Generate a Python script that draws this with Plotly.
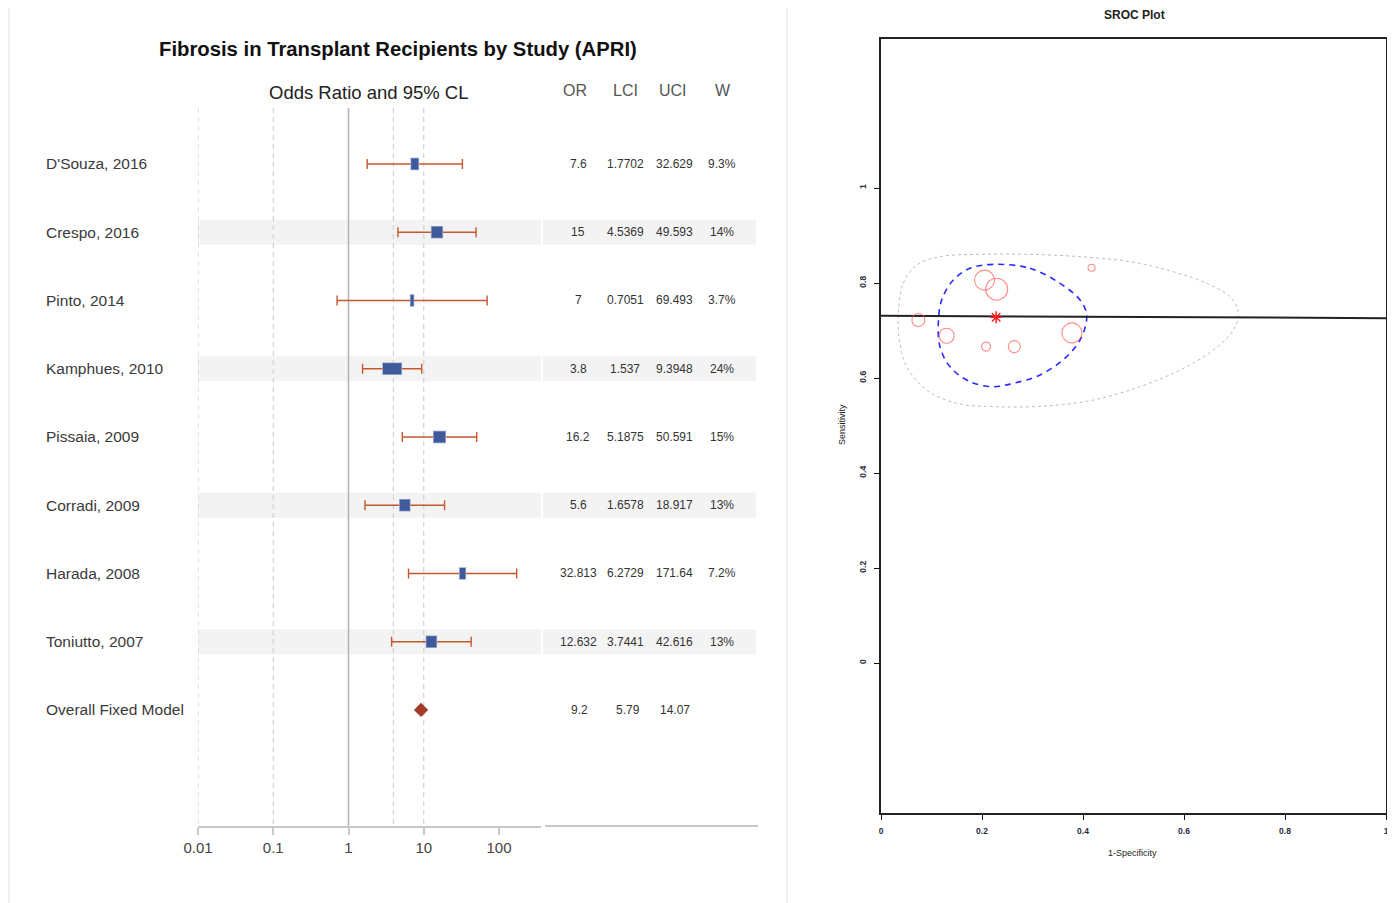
import numpy as np
import plotly.graph_objects as go

PAGE_W, PAGE_H = 1395, 903
BODY = 8  # browser default body margin
W, H = PAGE_W - BODY, PAGE_H - BODY

# ---------------- Forest plot data ----------------
studies = ["D'Souza, 2016", "Crespo, 2016", "Pinto, 2014", "Kamphues, 2010",
           "Pissaia, 2009", "Corradi, 2009", "Harada, 2008", "Toniutto, 2007"]
or_vals = [7.6, 15, 7, 3.8, 16.2, 5.6, 32.813, 12.632]
lci_vals = [1.7702, 4.5369, 0.7051, 1.537, 5.1875, 1.6578, 6.2729, 3.7441]
uci_vals = [32.629, 49.593, 69.493, 9.3948, 50.591, 18.917, 171.64, 42.616]
weights = [9.3, 14, 3.7, 24, 15, 13, 7.2, 13]
or_text = ["7.6", "15", "7", "3.8", "16.2", "5.6", "32.813", "12.632"]
lci_text = ["1.7702", "4.5369", "0.7051", "1.537", "5.1875", "1.6578", "6.2729", "3.7441"]
uci_text = ["32.629", "49.593", "69.493", "9.3948", "50.591", "18.917", "171.64", "42.616"]
w_text = ["9.3%", "14%", "3.7%", "24%", "15%", "13%", "7.2%", "13%"]

overall_label = "Overall Fixed Model"
overall_or = 9.2
overall_text = ["9.2", "5.79", "14.07"]

ref_dashed = [0.01, 0.1, 3.95, 10]
ref_solid = [1]
tick_vals = [0.01, 0.1, 1, 10, 100]
tick_text = ["0.01", "0.1", "1", "10", "100"]
col_headers = ["OR", "LCI", "UCI", "W"]

# ---------------- SROC data ----------------
fpr = [0.074, 0.130, 0.205, 0.229, 0.208, 0.264, 0.378, 0.417]
sens = [0.722, 0.689, 0.806, 0.787, 0.666, 0.666, 0.695, 0.832]
study_size = [13, 15, 20, 22, 9, 12, 20, 7]
summary_pt = [0.228, 0.728]
sroc_x = [0.0, 0.55, 1.0]
sroc_y = [0.731, 0.729, 0.726]
conf_x = [0.2224, 0.2950, 0.3545, 0.3941, 0.4073, 0.3974, 0.3677, 0.3149, 0.2620,
          0.2224, 0.1762, 0.1366, 0.1168, 0.1135, 0.1201, 0.1432, 0.1762, 0.2224]
conf_y = [0.8393, 0.8309, 0.7993, 0.7642, 0.7326, 0.6870, 0.6449, 0.6063, 0.5888,
          0.5817, 0.5922, 0.6238, 0.6659, 0.7151, 0.7642, 0.8063, 0.8309, 0.8393]
pred_x = [0.0343, 0.0442, 0.0706, 0.1168, 0.1960, 0.2950, 0.3941, 0.4931, 0.5789,
          0.6449, 0.6911, 0.7076, 0.6977, 0.6581, 0.5921, 0.5129, 0.4205, 0.3281,
          0.2290, 0.1498, 0.0904, 0.0508, 0.0363, 0.0343]
pred_y = [0.7361, 0.7993, 0.8379, 0.8554, 0.8604, 0.8604, 0.8554, 0.8449, 0.8238,
          0.7993, 0.7712, 0.7396, 0.7011, 0.6589, 0.6168, 0.5818, 0.5537, 0.5411,
          0.5396, 0.5467, 0.5747, 0.6239, 0.68, 0.7361]
sroc_ticks = [0, 0.2, 0.4, 0.6, 0.8, 1]
sroc_ticktext = ["<b>0</b>", "<b>0.2</b>", "<b>0.4</b>", "<b>0.6</b>", "<b>0.8</b>", "<b>1</b>"]


def xp(px):
    return (px - BODY) / W


def yp(py):
    return 1 - (py - BODY) / H


FONT = "Liberation Sans, Arial, sans-serif"
rows = list(range(1, len(studies) + 1))
overall_row = len(studies) + 1
Y_TOP, Y_BOT = 0.18, 10.70
PX_PER_DEC = 75.25

fig = go.Figure()

# reference lines
for v in ref_dashed:
    fig.add_trace(go.Scatter(x=[v, v], y=[Y_TOP, Y_BOT], mode="lines",
                             line=dict(color="#d2d2d2", width=1.2, dash="5px,4px"),
                             hoverinfo="skip", xaxis="x", yaxis="y"))
for v in ref_solid:
    fig.add_trace(go.Scatter(x=[v, v], y=[Y_TOP, Y_BOT], mode="lines",
                             line=dict(color="#b5b5b5", width=1.6),
                             hoverinfo="skip", xaxis="x", yaxis="y"))

# error bars
fig.add_trace(go.Scatter(
    x=or_vals, y=rows, mode="markers", marker=dict(size=1, opacity=0),
    error_x=dict(type="data", symmetric=False,
                 array=[u - o for u, o in zip(uci_vals, or_vals)],
                 arrayminus=[o - l for o, l in zip(or_vals, lci_vals)],
                 color="#c4582f", thickness=1.4, width=5),
    hoverinfo="skip", xaxis="x", yaxis="y"))


# weighted boxes (width proportional to weight)
def box_trace(extra_px, width, color):
    xs, ys = [], []
    for o, w, r in zip(or_vals, weights, rows):
        hw = (0.76 * w / 2 + extra_px) / PX_PER_DEC
        xs += [o * 10 ** (-hw), o * 10 ** hw, None]
        ys += [r, r, None]
    return go.Scatter(x=xs, y=ys, mode="lines", line=dict(color=color, width=width),
                      connectgaps=False, hoverinfo="skip", xaxis="x", yaxis="y")


fig.add_trace(box_trace(0.8, 12.5, "#9aa8d0"))
fig.add_trace(box_trace(0.0, 11, "#3f5a9b"))

# overall diamond
fig.add_trace(go.Scatter(x=[overall_or], y=[overall_row], mode="markers",
                         marker=dict(symbol="diamond", size=11, color="#a23b2b"),
                         hoverinfo="skip", xaxis="x", yaxis="y"))

# ---------------- SROC traces ----------------
fig.add_trace(go.Scatter(x=pred_x, y=pred_y, mode="lines",
                         line=dict(color="#bdbdbd", width=1, dash="dot", shape="spline"),
                         hoverinfo="skip", xaxis="x2", yaxis="y2"))
fig.add_trace(go.Scatter(x=conf_x, y=conf_y, mode="lines",
                         line=dict(color="#2a2aff", width=1.6, dash="6px,5px", shape="spline"),
                         hoverinfo="skip", xaxis="x2", yaxis="y2"))
fig.add_trace(go.Scatter(x=sroc_x, y=sroc_y, mode="lines",
                         line=dict(color="#222222", width=2),
                         hoverinfo="skip", xaxis="x2", yaxis="y2"))
fig.add_trace(go.Scatter(x=fpr, y=sens, mode="markers",
                         marker=dict(symbol="circle-open", size=study_size, color="#ff5a5a",
                                     line=dict(width=1.1)),
                         hoverinfo="skip", xaxis="x2", yaxis="y2"))
fig.add_trace(go.Scatter(x=[summary_pt[0]], y=[summary_pt[1]], mode="markers",
                         marker=dict(symbol="asterisk-open", size=10, color="#ff2020",
                                     line=dict(width=1.5, color="#ff2020")),
                         hoverinfo="skip", xaxis="x2", yaxis="y2"))

# ---------------- shapes ----------------
shapes = []
shapes.append(dict(type="rect", xref="paper", yref="paper", x0=xp(9), x1=xp(787),
                   y0=-0.05, y1=yp(7), line=dict(color="#dedede", width=1), layer="below"))
for r in rows:
    if r % 2 == 0:
        for a, b in [(198, 541), (543, 756)]:
            shapes.append(dict(type="rect", xref="paper", yref="y", x0=xp(a), x1=xp(b),
                               y0=r - 0.183, y1=r + 0.183, fillcolor="#f3f3f3",
                               line=dict(width=0), layer="below"))
shapes.append(dict(type="line", xref="paper", yref="paper", x0=xp(545), x1=xp(758),
                   y0=yp(826), y1=yp(826), line=dict(color="#c8c8c8", width=2)))

# ---------------- annotations ----------------
ann = []


def text(t, x, y, size, color="#333", yref="paper", xanchor="center", **kw):
    ann.append(dict(text=t, x=x, y=y, xref="paper", yref=yref, xanchor=xanchor,
                    yanchor="middle", showarrow=False,
                    font=dict(size=size, color=color, family=FONT), **kw))


text("<b>Fibrosis in Transplant Recipients by Study (APRI)</b>", xp(398), yp(49), 20.3, "#111")
text("Odds Ratio and 95% CL", xp(369), yp(92), 18.5, "#222")
for t, hx in zip(col_headers, [575, 625, 673, 723]):
    text(t, xp(hx), yp(90), 16, "#555")

col_x = [578, 625, 674, 722]
for r, name, a, b, c, d in zip(rows, studies, or_text, lci_text, uci_text, w_text):
    text(name, xp(44), r, 15.5, "#3a3a3a", yref="y", xanchor="left")
    for t, cx in zip([a, b, c, d], col_x):
        text(t, xp(cx), r, 12, "#333", yref="y")
text(overall_label, xp(44), overall_row, 15.5, "#3a3a3a", yref="y", xanchor="left")
for t, cx in zip(overall_text, [579, 628, 675]):
    text(t, xp(cx), overall_row, 12, "#333", yref="y")

text("<b>SROC Plot</b>", xp(1134), yp(15), 12, "#222")
text("1-Specificity", xp(1132), yp(853), 9, "#222")
text("Sensitivity", xp(842), yp(425), 9, "#222", textangle=-90)

fig.update_layout(
    width=W, height=H, margin=dict(l=0, r=0, t=0, b=0, autoexpand=False),
    paper_bgcolor="white", plot_bgcolor="white", showlegend=False,
    font=dict(family=FONT),
    xaxis=dict(domain=[xp(198), xp(541)], type="log", range=[-2, -2 + 343 / PX_PER_DEC],
               tickvals=tick_vals, ticktext=tick_text, ticks="outside", ticklen=7,
               tickcolor="#c8c8c8", tickwidth=1.5, showline=True, linecolor="#c8c8c8",
               linewidth=2, showgrid=False, zeroline=False, anchor="y", automargin=False,
               tickfont=dict(size=15, color="#444", family=FONT)),
    yaxis=dict(domain=[yp(826), yp(108)], range=[Y_BOT, Y_TOP], visible=False,
               showgrid=False, zeroline=False, anchor="x", automargin=False),
    xaxis2=dict(domain=[xp(881), xp(1386)], range=[0, 1], anchor="y2",
                tickvals=sroc_ticks, ticktext=sroc_ticktext, ticks="outside", ticklen=5,
                tickcolor="#111", showline=True, mirror=True, linecolor="#222", linewidth=1.5,
                showgrid=False, zeroline=False, automargin=False, ticklabelstandoff=4,
                tickfont=dict(size=8.5, color="#2a2a40", family=FONT)),
    yaxis2=dict(domain=[yp(813), yp(39)], range=[-0.3158, 1.3137], anchor="x2",
                tickvals=sroc_ticks, ticktext=sroc_ticktext, ticks="outside", ticklen=5,
                tickcolor="#111", showline=True, mirror=True, linecolor="#222", linewidth=1.5,
                showgrid=False, zeroline=False, tickangle=-90, automargin=False,
                ticklabelstandoff=5,
                tickfont=dict(size=8.5, color="#2a2a40", family=FONT)),
    shapes=shapes, annotations=ann,
)

fig.write_html("out.html")
